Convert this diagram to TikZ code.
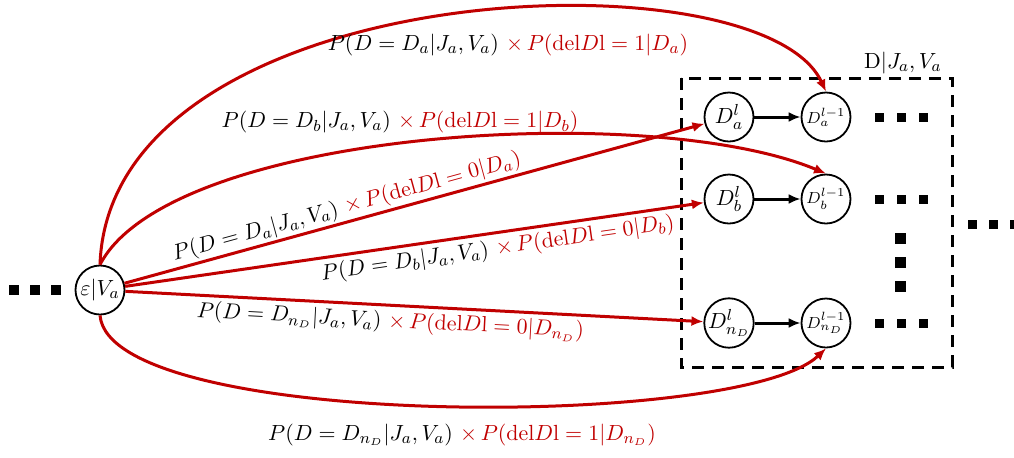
\documentclass[tikz,border=0pt]{standalone}
\usepackage{amsmath}
\usepackage{xcolor}
\usepackage{tikz}
\usetikzlibrary{arrows.meta,positioning}
\definecolor{ink}{HTML}{000000}
\definecolor{prob}{HTML}{C00000}

\begin{document}
\begin{tikzpicture}[x=0.5pt,y=-0.5pt,>={Latex[length=6pt,width=5pt]},
  font=\fontsize{11}{13}\selectfont,
  state/.style={draw=ink,circle,line width=0.9pt,minimum size=24.5pt,inner sep=0pt},
  sub/.style={font=\fontsize{8}{9}\selectfont},
  edge/.style={->,prob,line width=1.5pt},
  elabel/.style={sloped,text=ink},
  step1/.style={->,ink,line width=1.5pt},
  dot/.style={fill=ink,minimum size=#1,inner sep=0pt}]
\useasboundingbox (0,0) rectangle (1014,457);
% start node and its dots
\node[state] (src) at (100,290) {$\varepsilon|V_a$};
\foreach \x in {14,35,56} \node[dot=5pt] at (\x,290) {};
% the dashed group
\draw[ink,line width=1.5pt,dash pattern=on 6pt off 4pt] (681,78) rectangle (952,367);
\node (grp) at (903,63) {$\mathrm{D}|J_a,V_a$};
\node[state] (dal) at (729,117) {$D_a^l$};
\node[state,sub] (dap) at (826,117) {$D_a^{l-1}$};
\node[state] (dbl) at (729,199) {$D_b^l$};
\node[state,sub] (dbp) at (826,199) {$D_b^{l-1}$};
\node[state] (dnl) at (729,323) {$D_{n_D}^l$};
\node[state,sub] (dnp) at (826,323) {$D_{n_D}^{l-1}$};
\draw[step1] (dal) -- (dap);
\draw[step1] (dbl) -- (dbp);
\draw[step1] (dnl) -- (dnp);
\foreach \y in {117,199,323}
  \foreach \x in {879,901,923} \node[dot=4.5pt] at (\x,\y) {};
\foreach \y in {238,262,286} \node[dot=5.5pt] at (900,\y) {};
\foreach \x in {972,993,1014} \node[dot=4.5pt] at (\x,224) {};
% red arrows
\draw[edge] (src.north) .. controls (110,-25) and (760,-50) .. (dap.north);
\draw[edge] (src.north) .. controls (170,130) and (650,100) .. (dbp.north);
\draw[edge] (src.south) .. controls (110,430) and (740,430) .. (dnp.south);
\draw[edge] (src) -- node[elabel,above,pos=0.39,inner sep=1pt]
  {$P(D=D_a|J_a,V_a)$ \textcolor{prob}{$\times\,P(\mathrm{del}D\mathrm{l}=0|D_a)$}} (dal);
\draw[edge] (src) -- node[elabel,below,pos=0.64,inner sep=2pt]
  {$P(D=D_b|J_a,V_a)$ \textcolor{prob}{$\times\,P(\mathrm{del}D\mathrm{l}=0|D_b)$}} (dbl);
\draw[edge] (src) -- node[elabel,below,pos=0.46,inner sep=2pt]
  {$P(D=D_{n_D}|J_a,V_a)$ \textcolor{prob}{$\times\,P(\mathrm{del}D\mathrm{l}=0|D_{n_D})$}} (dnl);
% curve labels
\node (la1) at (508,45) {$P(D=D_a|J_a,V_a)$ \textcolor{prob}{$\times\,P(\mathrm{del}D\mathrm{l}=1|D_a)$}};
\node (lb1) at (400,122) {$P(D=D_b|J_a,V_a)$ \textcolor{prob}{$\times\,P(\mathrm{del}D\mathrm{l}=1|D_b)$}};
\node (ln1) at (462,435) {$P(D=D_{n_D}|J_a,V_a)$ \textcolor{prob}{$\times\,P(\mathrm{del}D\mathrm{l}=1|D_{n_D})$}};
\end{tikzpicture}
\end{document}
